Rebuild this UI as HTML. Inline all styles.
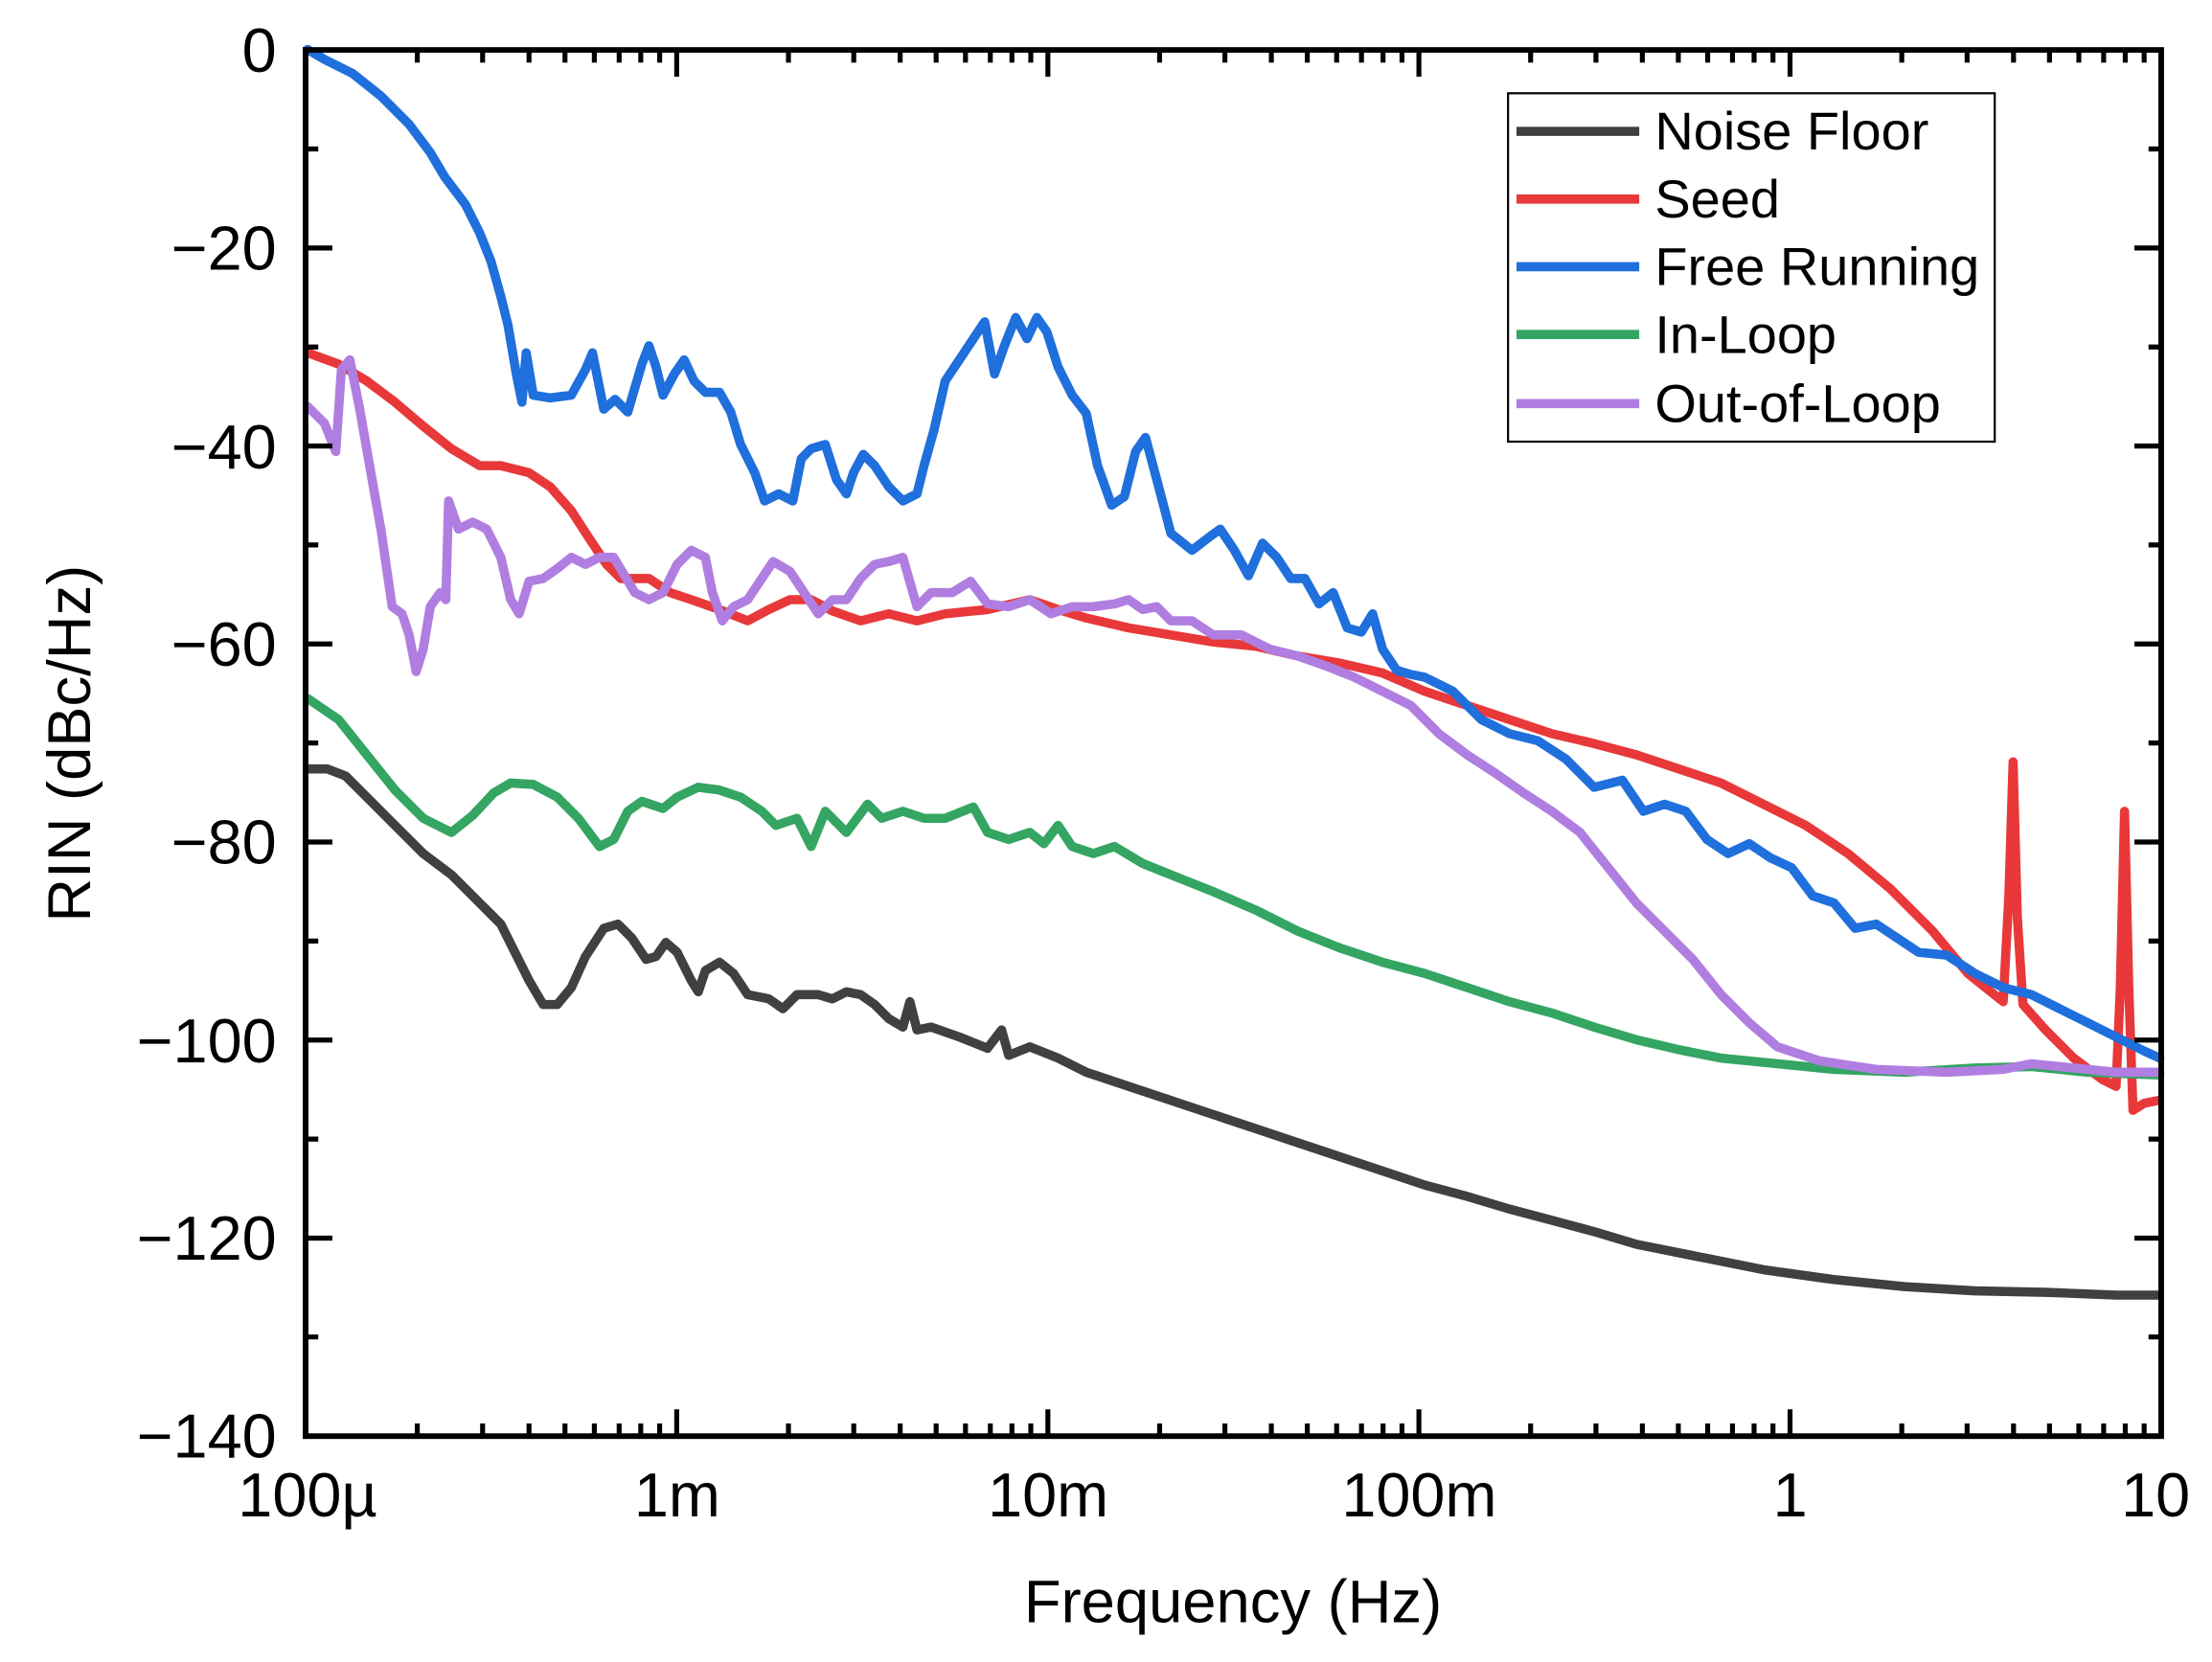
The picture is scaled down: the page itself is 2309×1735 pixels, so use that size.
<!DOCTYPE html>
<html><head><meta charset="utf-8"><style>html,body{margin:0;padding:0;background:#fff}svg{display:block}</style></head><body>
<svg width="2309" height="1735" viewBox="0 0 1568 1178" xmlns="http://www.w3.org/2000/svg" font-family="Liberation Sans, Arial, sans-serif">
<rect width="1568" height="1178" fill="#fff"/>
<g fill="none" stroke-linejoin="round" stroke-linecap="round" stroke-width="6.5">
<polyline stroke="#404040" points="218,545 232,545 245,550 260,565 280,585 300,605 320,620 340,640 355,655 365,675 375,695 385,712 395,712 405,700 415,678 428,658 438,655 448,665 458,680 465,678 472,668 480,675 490,695 495,703 500,688 510,682 520,690 530,705 545,708 555,715 565,705 580,705 590,708 600,703 610,705 620,712 630,722 640,728 645,710 650,730 660,728 680,735 700,743 710,730 715,748 730,742 750,750 770,760 800,770 830,780 860,790 890,800 920,810 950,820 980,830 1010,840 1040,848 1070,857 1100,865 1130,873 1160,882 1200,890 1250,900 1300,907 1350,912 1400,915 1450,916 1500,918 1530,918"/>
<polyline stroke="#e8383a" points="218,250 240,258 260,270 280,285 300,302 320,318 340,330 355,330 375,335 390,345 405,362 418,382 430,400 440,410 460,410 475,420 490,425 510,432 530,440 545,432 560,425 575,425 590,433 610,440 630,435 650,440 670,435 700,432 730,425 750,432 770,438 800,445 830,450 860,455 890,458 920,465 950,470 980,477 1010,490 1040,500 1070,510 1100,520 1130,527 1160,535 1190,545 1220,555 1250,570 1280,585 1310,605 1340,630 1370,660 1395,690 1420,710 1424,635 1427,540 1430,650 1434,712 1450,730 1470,750 1490,765 1500,770 1503,700 1506,575 1509,700 1512,787 1520,782 1530,780"/>
<polyline stroke="#1f6fdc" points="218,35 230,42 250,52 270,68 290,88 305,108 315,125 330,145 340,165 348,185 355,210 360,230 366,265 370,285 373,250 378,280 390,282 405,280 415,262 420,250 428,290 436,283 445,292 455,258 460,245 465,260 470,280 478,265 485,255 492,270 500,278 510,278 518,292 525,315 535,335 542,355 552,350 562,355 568,325 575,318 585,315 593,340 600,350 605,335 612,322 620,330 630,345 640,355 650,350 655,330 662,305 670,270 680,255 690,240 698,228 705,265 712,245 720,225 728,240 735,225 742,235 750,260 760,280 770,293 778,330 788,358 797,352 805,320 812,310 820,340 830,378 845,390 858,380 865,375 875,390 885,408 895,385 905,395 915,410 925,410 935,428 945,420 955,445 965,448 973,435 980,460 990,475 1000,478 1010,480 1030,490 1050,510 1070,520 1090,525 1110,538 1130,558 1150,553 1165,575 1180,570 1195,575 1210,595 1225,605 1240,598 1255,608 1270,615 1285,635 1300,640 1315,658 1330,655 1345,665 1360,675 1380,677 1400,690 1420,700 1440,705 1460,715 1480,725 1500,735 1520,745 1531,750"/>
<polyline stroke="#34a562" points="218,495 240,510 260,535 280,560 300,580 320,590 335,578 350,562 362,555 378,556 395,565 410,580 425,600 435,595 445,575 455,568 470,573 480,565 495,558 510,560 525,565 540,575 550,585 565,580 575,600 585,575 600,590 615,570 625,580 640,575 655,580 670,580 690,572 700,590 715,595 730,590 740,598 750,585 760,600 775,605 790,600 810,612 830,620 860,632 890,645 920,660 950,672 980,682 1010,690 1040,700 1070,710 1100,718 1130,728 1160,737 1190,744 1220,750 1250,753 1300,758 1350,760 1400,757 1440,756 1480,760 1531,762"/>
<polyline stroke="#b07ee0" points="218,288 230,300 238,320 242,262 248,255 255,290 262,330 270,375 278,430 285,435 290,450 295,476 300,460 305,430 312,420 316,425 318,355 325,375 335,370 345,375 355,395 362,425 368,435 375,412 385,410 395,403 405,395 415,400 425,395 435,395 450,420 460,425 470,420 480,400 490,390 500,395 505,420 512,440 520,430 530,425 540,410 548,398 560,405 570,420 580,435 590,425 600,425 610,410 620,400 630,398 640,395 650,430 660,420 675,420 688,412 700,428 715,430 730,425 745,435 760,430 775,430 790,428 800,425 810,432 820,430 830,440 845,440 860,450 880,450 900,460 920,465 940,472 960,480 980,490 1000,500 1020,520 1040,535 1060,548 1080,562 1100,575 1120,590 1140,615 1160,640 1180,660 1200,680 1220,705 1240,725 1260,742 1290,752 1330,758 1380,760 1420,758 1440,754 1470,757 1500,760 1531,760"/>
</g>
<g stroke="#000" stroke-width="3.5" fill="none">
<path d="M295.8,1018v-9M342.1,1018v-9M375,1018v-9M400.5,1018v-9M421.3,1018v-9M438.9,1018v-9M454.2,1018v-9M467.6,1018v-9M558.9,1018v-9M605.2,1018v-9M638.1,1018v-9M663.6,1018v-9M684.4,1018v-9M702,1018v-9M717.3,1018v-9M730.7,1018v-9M822,1018v-9M868.3,1018v-9M901.2,1018v-9M926.7,1018v-9M947.5,1018v-9M965.1,1018v-9M980.4,1018v-9M993.8,1018v-9M1085,1018v-9M1131.3,1018v-9M1164.2,1018v-9M1189.7,1018v-9M1210.5,1018v-9M1228.1,1018v-9M1243.4,1018v-9M1256.8,1018v-9M1348.1,1018v-9M1394.4,1018v-9M1427.3,1018v-9M1452.8,1018v-9M1473.6,1018v-9M1491.2,1018v-9M1506.5,1018v-9M1519.9,1018v-9M479.7,1018v-19M742.8,1018v-19M1005.8,1018v-19M1268.9,1018v-19"/>
<path d="M295.8,35.3v9M342.1,35.3v9M375,35.3v9M400.5,35.3v9M421.3,35.3v9M438.9,35.3v9M454.2,35.3v9M467.6,35.3v9M558.9,35.3v9M605.2,35.3v9M638.1,35.3v9M663.6,35.3v9M684.4,35.3v9M702,35.3v9M717.3,35.3v9M730.7,35.3v9M822,35.3v9M868.3,35.3v9M901.2,35.3v9M926.7,35.3v9M947.5,35.3v9M965.1,35.3v9M980.4,35.3v9M993.8,35.3v9M1085,35.3v9M1131.3,35.3v9M1164.2,35.3v9M1189.7,35.3v9M1210.5,35.3v9M1228.1,35.3v9M1243.4,35.3v9M1256.8,35.3v9M1348.1,35.3v9M1394.4,35.3v9M1427.3,35.3v9M1452.8,35.3v9M1473.6,35.3v9M1491.2,35.3v9M1506.5,35.3v9M1519.9,35.3v9M479.7,35.3v19M742.8,35.3v19M1005.8,35.3v19M1268.9,35.3v19"/>
<path d="M216.6,105.5h9M216.6,245.9h9M216.6,386.2h9M216.6,526.6h9M216.6,667h9M216.6,807.4h9M216.6,947.7h9M216.6,175.7h19M216.6,316.1h19M216.6,456.4h19M216.6,596.8h19M216.6,737.2h19M216.6,877.6h19"/>
<path d="M1532,105.5h-9M1532,245.9h-9M1532,386.2h-9M1532,526.6h-9M1532,667h-9M1532,807.4h-9M1532,947.7h-9M1532,175.7h-19M1532,316.1h-19M1532,456.4h-19M1532,596.8h-19M1532,737.2h-19M1532,877.6h-19"/>
</g>
<rect x="216.6" y="35.3" width="1315.4" height="982.7" fill="none" stroke="#000" stroke-width="4"/>
<g font-size="44" fill="#000">
<g text-anchor="end">
<text x="196" y="51">0</text><text x="196" y="191">−20</text><text x="196" y="332">−40</text><text x="196" y="472">−60</text><text x="196" y="612">−80</text><text x="196" y="753">−100</text><text x="196" y="893">−120</text><text x="196" y="1033">−140</text>
</g>
<g text-anchor="middle">
<text x="218" y="1075">100µ</text><text x="480" y="1075">1m</text><text x="743" y="1075">10m</text><text x="1006" y="1075">100m</text><text x="1269" y="1075">1</text><text x="1528" y="1075">10</text>
<text x="874" y="1150" font-size="43">Frequency (Hz)</text>
<text transform="translate(64,527) rotate(-90)" font-size="43">RIN (dBc/Hz)</text>
</g>
</g>
<rect x="1069" y="66" width="345" height="247" fill="#fff" stroke="#000" stroke-width="1.5"/>
<g stroke-width="6.5">
<line x1="1075" y1="93" x2="1162" y2="93" stroke="#404040"/>
<line x1="1075" y1="141" x2="1162" y2="141" stroke="#e8383a"/>
<line x1="1075" y1="189" x2="1162" y2="189" stroke="#1f6fdc"/>
<line x1="1075" y1="237" x2="1162" y2="237" stroke="#34a562"/>
<line x1="1075" y1="286" x2="1162" y2="286" stroke="#b07ee0"/>
</g>
<g font-size="38" fill="#000">
<text x="1173" y="106">Noise Floor</text><text x="1173" y="154">Seed</text><text x="1173" y="202">Free Running</text><text x="1173" y="250">In-Loop</text><text x="1173" y="299">Out-of-Loop</text>
</g>
</svg>
</body></html>
